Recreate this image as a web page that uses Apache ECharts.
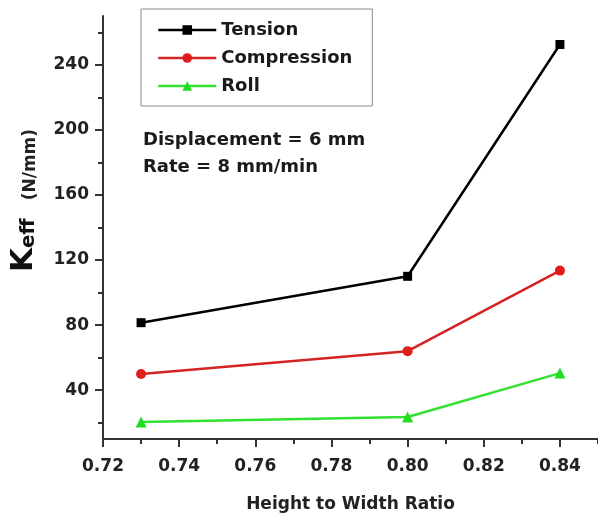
<!DOCTYPE html>
<html>
<head>
<meta charset="utf-8">
<script src="https://cdn.jsdelivr.net/npm/echarts@6/dist/echarts.min.js"></script>
<style>
html,body{margin:0;padding:0;background:#fff;}
#chart{width:598px;height:518px;}
</style>
</head>
<body>
<div id="chart"></div>
<script>
// ---- data ----
const ratios = [0.73, 0.80, 0.84];
const tension = [81.5, 110, 252.5];
const compression = [50, 64, 113.5];
const roll = [20.5, 23.5, 50.5];
const seriesNames = ['Tension', 'Compression', 'Roll'];
const xTickLabels = [0.72, 0.74, 0.76, 0.78, 0.80, 0.82, 0.84];
const xMinorTicks = [0.73, 0.75, 0.77, 0.79, 0.81, 0.83, 0.85];
const yTickLabels = [40, 80, 120, 160, 200, 240];
const yMinorTicks = [20, 60, 100, 140, 180, 220, 260];
const annotationLines = ['Displacement = 6 mm', 'Rate = 8 mm/min'];

const FONT = 'DejaVu Sans';
const AXIS_COLOR = '#333';
const X_MIN = 0.72, X_MAX = 0.85, Y_MIN = 10, Y_MAX = 270;
const LW = 2.5;

const chart = echarts.init(document.getElementById('chart'), null, {renderer: 'canvas'});

function pairs(xs, ys) { return xs.map((x, i) => [x, ys[i]]); }

const option = {
  backgroundColor: '#fff',
  animation: false,
  grid: {left: 101, right: 0, top: 16, bottom: 78},
  legend: {
    orient: 'vertical',
    left: 141, top: 9,
    padding: [12, 20, 11, 16],
    itemGap: 10,
    itemWidth: 58,
    itemHeight: 12,
    borderColor: '#8a8a8a',
    borderWidth: 1,
    backgroundColor: '#fff',
    lineStyle: {width: LW},
    textStyle: {fontFamily: FONT, fontWeight: 'bold', fontSize: 18, lineHeight: 18, color: '#1a1a1a'},
    data: seriesNames
  },
  xAxis: [{
    type: 'value', min: X_MIN, max: X_MAX,
    position: 'bottom',
    name: 'Height to Width Ratio',
    nameLocation: 'middle', nameGap: 57,
    nameTextStyle: {fontFamily: FONT, fontWeight: 'bold', fontSize: 17, color: '#222'},
    axisLine: {show: true, onZero: false, lineStyle: {color: AXIS_COLOR, width: 2}},
    axisTick: {show: true, length: 8, customValues: xTickLabels, lineStyle: {color: AXIS_COLOR, width: 2}},
    axisLabel: {customValues: xTickLabels, margin: 19, fontFamily: FONT, fontWeight: 'bold', fontSize: 17, color: '#222',
      formatter: v => v.toFixed(2)},
    splitLine: {show: false}
  }, {
    type: 'value', min: X_MIN, max: X_MAX, position: 'bottom', offset: 0,
    axisLine: {show: false},
    axisTick: {show: true, length: 5, customValues: xMinorTicks, lineStyle: {color: AXIS_COLOR, width: 2}},
    axisLabel: {show: false}, splitLine: {show: false}
  }],
  yAxis: [{
    type: 'value', min: Y_MIN, max: Y_MAX,
    position: 'left',
    name: '{pad|}{k|K}{e|eff}{gap|}{u|(N/mm)}',
    nameLocation: 'middle', nameRotate: 90, nameGap: 64,
    nameTextStyle: {
      fontFamily: FONT, fontWeight: 'bold', color: '#111',
      rich: {
        k: {fontFamily: FONT, fontWeight: 'bold', fontSize: 31, lineHeight: 30, color: '#111', verticalAlign: 'bottom'},
        e: {fontFamily: FONT, fontWeight: 'bold', fontSize: 20, lineHeight: 16, color: '#111', verticalAlign: 'bottom'},
        gap: {width: 18},
        u: {fontFamily: FONT, fontWeight: 'bold', fontSize: 17, lineHeight: 20, color: '#222', verticalAlign: 'bottom'},
        pad: {width: 54}
      }
    },
    axisLine: {show: true, onZero: false, lineStyle: {color: AXIS_COLOR, width: 2}},
    axisTick: {show: true, length: 8, customValues: yTickLabels, lineStyle: {color: AXIS_COLOR, width: 2}},
    axisLabel: {customValues: yTickLabels, margin: 14, fontFamily: FONT, fontWeight: 'bold', fontSize: 17, color: '#222'},
    splitLine: {show: false}
  }, {
    type: 'value', min: Y_MIN, max: Y_MAX, position: 'left', offset: 0,
    axisLine: {show: false},
    axisTick: {show: true, length: 5, customValues: yMinorTicks, lineStyle: {color: AXIS_COLOR, width: 2}},
    axisLabel: {show: false}, splitLine: {show: false}
  }],
  series: [
    {type: 'line', name: seriesNames[0], data: pairs(ratios, tension), symbol: 'rect', symbolSize: 9,
      itemStyle: {color: '#000'}, lineStyle: {width: LW, color: '#000'}, z: 3},
    {type: 'line', name: seriesNames[1], data: pairs(ratios, compression), symbol: 'circle', symbolSize: 10,
      itemStyle: {color: '#e01c1c'}, lineStyle: {width: LW, color: '#d42424'}, z: 3},
    {type: 'line', name: seriesNames[2], data: pairs(ratios, roll), symbol: 'triangle', symbolSize: 11,
      itemStyle: {color: '#22dd22'}, lineStyle: {width: LW, color: '#33e033'}, z: 3}
  ],
  graphic: [{
    type: 'text', left: 143, top: 127,
    style: {
      text: annotationLines.join('\n'),
      fontFamily: FONT, fontWeight: 'bold', fontSize: 18, lineHeight: 27, fill: '#1a1a1a'
    }
  }]
};
chart.setOption(option);
</script>
</body>
</html>
